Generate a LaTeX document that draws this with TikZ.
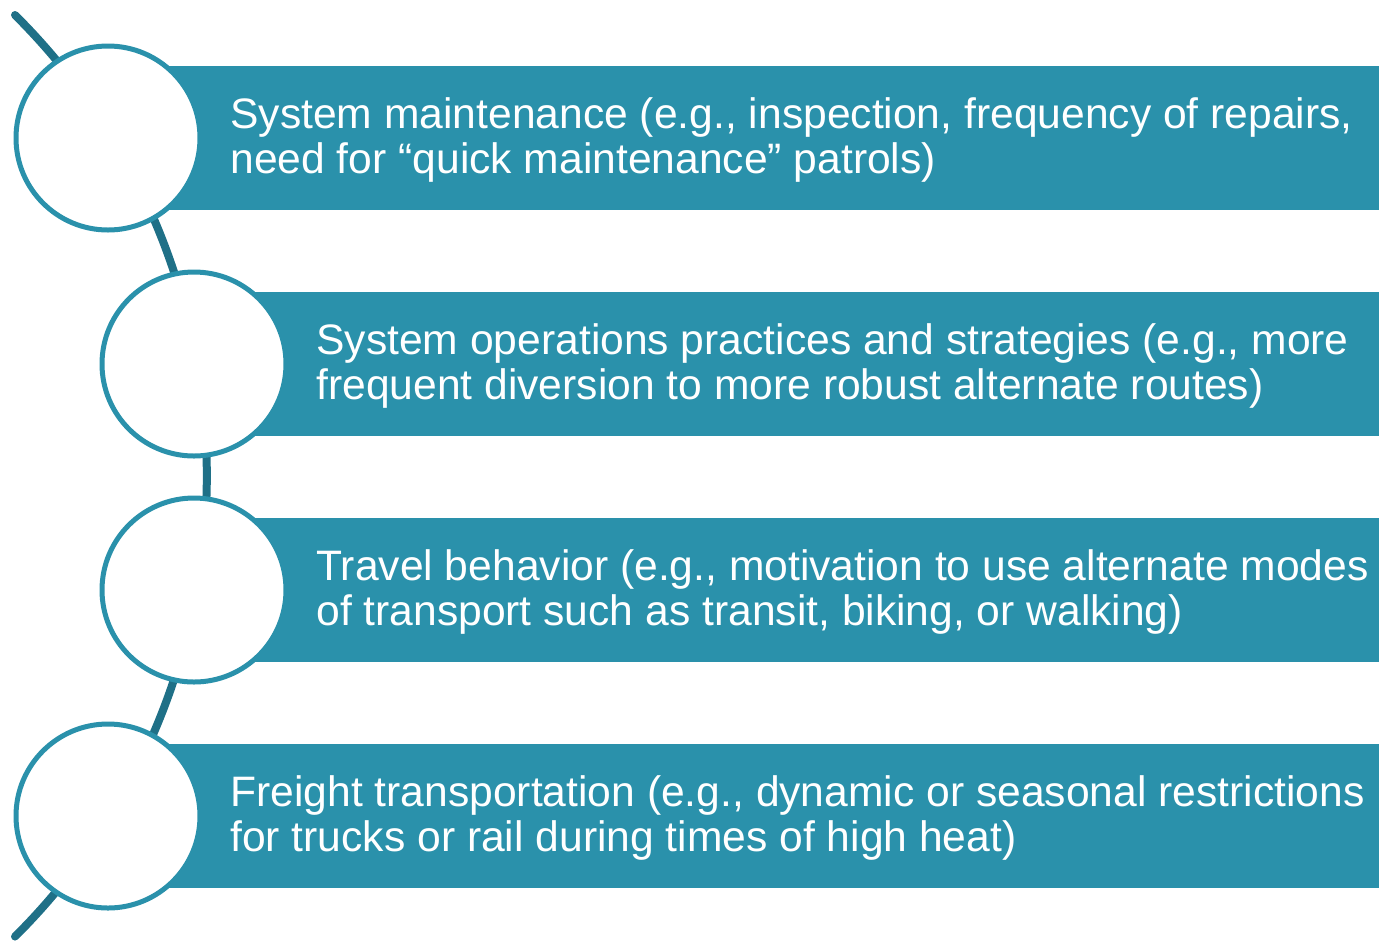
\documentclass[tikz,border=0pt]{standalone}
\usepackage{fontspec}
\setmainfont{Liberation Sans}
\definecolor{bandteal}{RGB}{42,145,171}
\definecolor{spineteal}{RGB}{31,112,135}
\tikzset{
  ring/.style={circle,draw=bandteal,line width=2.5pt,fill=white,inner sep=0pt,minimum size=92pt},
  band/.style={rectangle,fill=bandteal,inner sep=0pt,minimum height=72pt,anchor=west},
  bandtext/.style={anchor=west,align=left,inner sep=0pt,text=white}
}
\begin{document}
\begin{tikzpicture}[x=0.5pt,y=0.5pt,line cap=round,line join=round,font=\fontsize{21.3}{22.2}\selectfont]
  \useasboundingbox (0,0) rectangle (1379,-943);
  % spine behind the rings
  \coordinate (top) at (15,-15);
  \draw[spineteal,line width=4pt] (top) arc[start angle=45.2,end angle=-45.2,radius=649.4] coordinate (bot);
  \foreach \cx/\cy/\n/\txt in {
      108/138/1/{System maintenance (e.g., inspection, frequency of repairs,\\need for “quick maintenance” patrols)},
      194/364/2/{System operations practices and strategies (e.g., more\\frequent diversion to more robust alternate routes)},
      194/590/3/{Travel behavior (e.g., motivation to use alternate modes\\of transport such as transit, biking, or walking)},
      108/816/4/{Freight transportation (e.g., dynamic or seasonal restrictions\\for trucks or rail during times of high heat)}}{
    \node[band,minimum width={(1379-\cx)*0.5pt}] (band\n) at (\cx,-\cy) {};
    \node[ring] (ring\n) at (\cx,-\cy) {};
    \node[bandtext] (text\n) at (\cx+122,-\cy-2) {\txt};
  }
\end{tikzpicture}
\end{document}
